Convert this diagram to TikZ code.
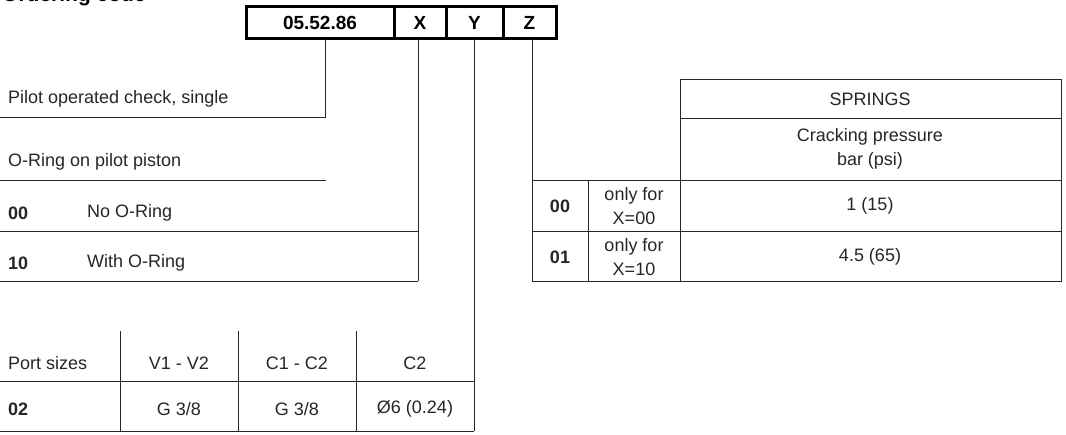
\documentclass[tikz,border=0pt]{standalone}
\usepackage{fontspec}
\setmainfont{Liberation Sans}
\begin{document}
\begin{tikzpicture}[x=1pt,y=-1pt,
  ln/.style={line width=0.8pt,draw=black!85},
  txt/.style={inner sep=0pt,font=\fontsize{18}{20}\selectfont,text=black!85},
  bt/.style={txt,font=\fontsize{18}{20}\selectfont\bfseries},
  two/.style={txt,align=center,font=\fontsize{18}{24}\selectfont},
  cell/.style={draw,line width=3pt,minimum height=32pt,inner sep=0pt,font=\fontsize{19}{20}\selectfont\bfseries}]
\useasboundingbox (0,0) rectangle (1066,435);
\clip (0,0) rectangle (1066,435);
\node[anchor=base west,inner sep=0pt,font=\fontsize{21}{22}\selectfont\bfseries] (title) at (2,2) {Ordering code};
% code box
\node[cell,minimum width=148pt] (c0) at (320,23) {05.52.86};
\node[cell,minimum width=52pt] (cx) at (420,23) {X};
\node[cell,minimum width=57pt] (cy) at (474.5,23) {Y};
\node[cell,minimum width=53pt] (cz) at (529.5,23) {Z};
% connectors
\coordinate (p1) at (325,117);
\coordinate (pl) at (0,117);
\draw[ln] (325,39) -- (p1) -- (pl);
\coordinate (xe) at (418,281);
\draw[ln] (418,39) -- (xe);
\coordinate (ye) at (474,431);
\draw[ln] (474,39) -- (ye);
\coordinate (ze) at (532,281);
\draw[ln] (532,39) -- (ze);
% left texts
\node[txt,anchor=west] (t1) at (8,99) {Pilot operated check, single};
\node[txt,anchor=west] (t2) at (8,162) {O-Ring on pilot piston};
\draw[ln] (0,180) -- (326,180);
\node[bt,anchor=west] (r1a) at (8,213) {00};
\node[txt,anchor=west] (r1b) at (87,213) {No O-Ring};
\draw[ln] (0,231) -- (418,231);
\node[bt,anchor=west] (r2a) at (8,263) {10};
\node[txt,anchor=west] (r2b) at (87,263) {With O-Ring};
\draw[ln] (0,281) -- (418,281);
% bottom table
\foreach \x in {120,238,356} \draw[ln] (\x,331) -- (\x,431);
\draw[ln] (0,381) -- (474,381);
\draw[ln] (0,431) -- (474,431);
\node[txt,anchor=west] (ps) at (8,363) {Port sizes};
\node[txt] (h1) at (179,363) {V1 - V2};
\node[txt] (h2) at (297,363) {C1 - C2};
\node[txt] (h3) at (415,363) {C2};
\node[bt,anchor=west] (b0) at (8,409) {02};
\node[txt] (b1) at (179,409) {G 3/8};
\node[txt] (b2) at (297,409) {G 3/8};
\node[txt] (b3) at (415,409) {Ø6 (0.24)};
% right table
\draw[ln] (680,79) rectangle (1061,281);
\draw[ln] (680,118) -- (1061,118);
\draw[ln] (532,180) -- (1061,180);
\draw[ln] (532,231) -- (1061,231);
\draw[ln] (532,281) -- (680,281);
\draw[ln] (588,180) -- (588,281);
\node[txt] (sp) at (870,99) {SPRINGS};
\node[two] (cp) at (870,149) {Cracking pressure\\bar (psi)};
\node[bt] (z0) at (560,206) {00};
\node[two] (z0t) at (634,206) {only for\\X=00};
\node[txt] (z0v) at (870,206) {1 (15)};
\node[bt] (z1) at (560,257) {01};
\node[two] (z1t) at (634,257) {only for\\X=10};
\node[txt] (z1v) at (870,257) {4.5 (65)};
\end{tikzpicture}
\end{document}
